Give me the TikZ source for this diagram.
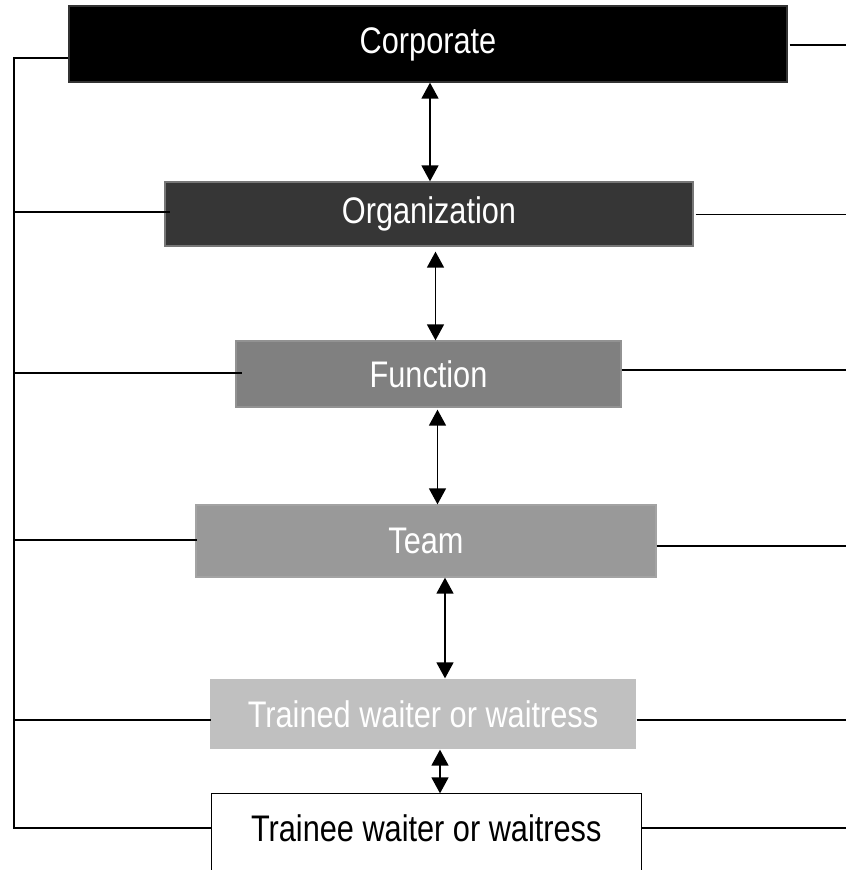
\documentclass[tikz,border=0pt]{standalone}
\usepackage{fontspec}
\setmainfont{Liberation Sans}[FakeStretch=0.83]
\usetikzlibrary{arrows.meta,calc}
\definecolor{orgfill}{HTML}{363636}
\definecolor{orgline}{HTML}{777777}
\definecolor{funfill}{HTML}{808080}
\definecolor{funline}{HTML}{929292}
\definecolor{teamfill}{HTML}{999999}
\definecolor{teamline}{HTML}{A3A3A3}
\definecolor{trfill}{HTML}{C0C0C0}
\tikzset{
  lvl/.style={inner sep=0pt, line width=1.3pt, font=\fontsize{37}{40}\selectfont, text=white},
  conn/.style={line width=1.4pt, black},
  dbl/.style={line width=1.6pt, black, {Triangle[width=17pt,length=16pt]}-{Triangle[width=17pt,length=16pt]}}
}
\begin{document}
\begin{tikzpicture}[x=1pt,y=1pt]
\useasboundingbox (0,0) rectangle (846,-870);
\clip (0,0) rectangle (846,-870);
% boxes
\node[lvl, fill=black, draw=black!80, minimum width=718, minimum height=76] (corp) at (428,-44) {Corporate};
\node[lvl, fill=orgfill, draw=orgline, minimum width=528, minimum height=64] (org) at (429,-214) {Organization};
\node[lvl, fill=funfill, draw=funline, minimum width=385, minimum height=66] (fun) at (428.5,-374) {Function};
\node[lvl, fill=teamfill, draw=teamline, minimum width=460, minimum height=72] (team) at (426,-541) {Team};
\node[lvl, fill=trfill, minimum width=426, minimum height=70] (trd) at (423,-714) {Trained waiter or waitress};
\node[lvl, text=black, minimum width=428.5, minimum height=68] (tre) at (426.25,-828) {Trainee waiter or waitress};
\draw[line width=1.3pt] ($(tre.south west)+(0,-30)$) -- (tre.north west) -- (tre.north east) -- ($(tre.south east)+(0,-30)$);
% left bus
\coordinate (lb1) at (14,-58);
\coordinate (lb2) at (14,-212);
\coordinate (lb3) at (14,-373);
\coordinate (lb4) at (14,-540);
\coordinate (lb5) at (14,-720);
\coordinate (lb6) at (14,-828);
\draw[conn] (lb1 -| corp.west) -- (lb1) -- (lb6) -- (lb6 -| tre.west);
\draw[conn] (lb2) -- ($(lb2 -| org.west)+(6,0)$);
\draw[conn] (lb3) -- ($(lb3 -| fun.west)+(7,0)$);
\draw[conn] (lb4) -- ($(lb4 -| team.west)+(2,0)$);
\draw[conn] (lb5) -- ($(lb5 -| trd.west)+(2,0)$);
% right ends
\coordinate (rb1) at (846,-45);
\coordinate (rb2) at (846,-214.5);
\coordinate (rb3) at (846,-370);
\coordinate (rb4) at (846,-546);
\coordinate (rb5) at (846,-720);
\coordinate (rb6) at (846,-828);
\draw[conn] ($(rb1 -| corp.east)+(2,0)$) -- (rb1);
\draw[conn] ($(rb2 -| org.east)+(2,0)$) -- (rb2);
\draw[conn] (rb3 -| fun.east) -- (rb3);
\draw[conn] (rb4 -| team.east) -- (rb4);
\draw[conn] (rb5 -| trd.east) -- (rb5);
\draw[conn] (rb6 -| tre.east) -- (rb6);
% vertical double arrows
\coordinate (a1) at (430,0);
\coordinate (a2) at (435.5,0);
\coordinate (a3) at (437.5,0);
\coordinate (a4) at (445,0);
\coordinate (a5) at (440,0);
\draw[dbl] (corp.south -| a1) -- (org.north -| a1);
\draw[dbl] ($(org.south -| a2)+(0,-5)$) -- (fun.north -| a2);
\draw[dbl] ($(fun.south -| a3)+(0,-2)$) -- (team.north -| a3);
\draw[dbl] (team.south -| a4) -- (trd.north -| a4);
\draw[dbl] (trd.south -| a5) -- (tre.north -| a5);
\end{tikzpicture}
\end{document}
